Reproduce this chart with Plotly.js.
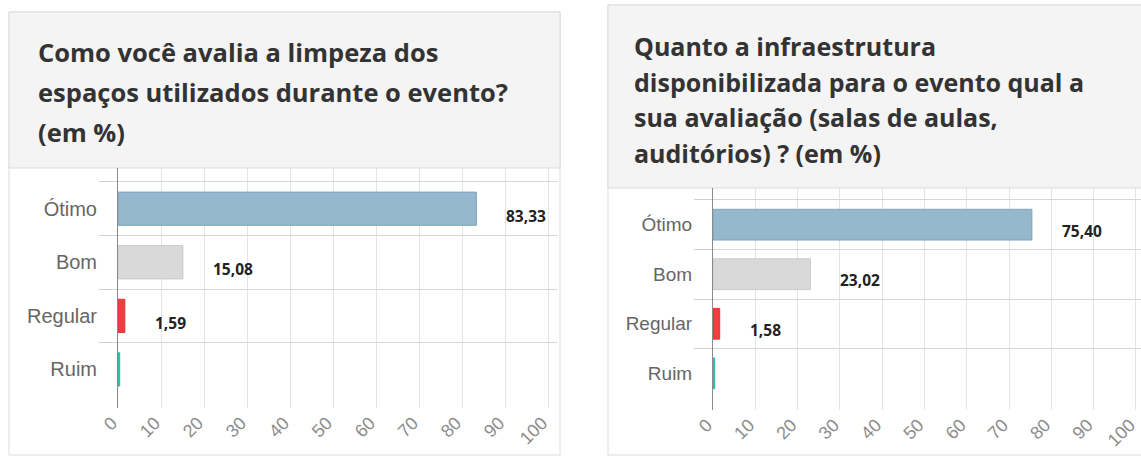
<!DOCTYPE html>
<html>
<head>
<meta charset="utf-8">
<script src="https://cdn.plot.ly/plotly-3.0.1.min.js"></script>
<style>
  html, body { margin: 0; padding: 0; background: #fff; }
  #chart { width: 1141px; height: 459px; }
</style>
</head>
<body>
<div id="chart"></div>
<script>
// data
var categorias = ['Ótimo', 'Bom', 'Regular', 'Ruim'];
var limpeza = [83.33, 15.08, 1.59, 0];
var infraestrutura = [75.40, 23.02, 1.58, 0];
var xTicks = [0, 10, 20, 30, 40, 50, 60, 70, 80, 90, 100];

var tituloLimpeza = [
    'Como você avalia a limpeza dos',
    'espaços utilizados durante o evento?',
    '(em %)'
];
var tituloInfra = [
    'Quanto a infraestrutura',
    'disponibilizada para o evento qual a',
    'sua avaliação (salas de aulas,',
    'auditórios) ? (em %)'
];

var W = 1141, H = 459;
function px(x) { return x / W; }
function py(y) { return 1 - y / H; }

var fill = ['#94b8cd', '#d9d9d9', '#ec3f3f', '#2fb9a6'];
var borda = ['#7fa4bb', '#c8c8c8', '#e03434', '#2fb9a6'];
var minBar = 0.4; // the original library draws zero bars as a thin stroke

function fmt(v) { return v.toFixed(2).replace('.', ','); }

function barTrace(vals, xa, ya) {
    return {
        type: 'bar',
        orientation: 'h',
        x: vals.map(function (v) { return Math.max(v, minBar); }),
        y: categorias,
        xaxis: xa,
        yaxis: ya,
        width: 0.62,
        marker: { color: fill, line: { color: borda, width: 1 } },
        hoverinfo: 'skip',
        showlegend: false
    };
}

var data = [barTrace(limpeza, 'x', 'y'), barTrace(infraestrutura, 'x2', 'y2')];

function xAxis(domain, maxRange, anchor) {
    return {
        domain: domain,
        anchor: anchor,
        range: [0, maxRange],
        tickvals: xTicks,
        ticktext: xTicks.map(String),
        tickangle: -45,
        ticklabelshift: -6,
        ticklabeloverflow: 'allow',
        showgrid: true,
        gridcolor: '#e3e3e3',
        zeroline: false,
        showline: false,
        ticks: '',
        fixedrange: true,
        tickfont: { family: 'Liberation Sans, Arial, sans-serif', size: 18, color: '#8c8c8c' }
    };
}

function yAxis(domain, range, anchor, size) {
    return {
        domain: domain,
        anchor: anchor,
        type: 'category',
        range: range,
        tickson: 'boundaries',
        ticks: 'outside',
        ticklen: 18,
        tickwidth: 1,
        tickcolor: '#d0d0d0',
        ticklabelstandoff: 16,
        showgrid: true,
        gridcolor: '#d6d6d6',
        showline: true,
        linecolor: '#8a8a8a',
        linewidth: 1,
        zeroline: false,
        fixedrange: true,
        tickfont: { family: 'Liberation Sans, Arial, sans-serif', size: size, color: '#666' }
    };
}

var shapes = [
    // cards
    { type: 'rect', xref: 'paper', yref: 'paper', x0: px(9), x1: px(560), y0: py(455), y1: py(12),
      fillcolor: '#fff', line: { color: '#dcdcdc', width: 1 }, layer: 'below' },
    { type: 'rect', xref: 'paper', yref: 'paper', x0: px(9), x1: px(560), y0: py(168), y1: py(12),
      fillcolor: '#f4f4f4', line: { color: '#dcdcdc', width: 1 }, layer: 'below' },
    { type: 'rect', xref: 'paper', yref: 'paper', x0: px(608), x1: px(1150), y0: py(455), y1: py(5),
      fillcolor: '#fff', line: { color: '#dcdcdc', width: 1 }, layer: 'below' },
    { type: 'rect', xref: 'paper', yref: 'paper', x0: px(608), x1: px(1150), y0: py(188), y1: py(5),
      fillcolor: '#f4f4f4', line: { color: '#dcdcdc', width: 1 }, layer: 'below' }
];

var annotations = [];

function addTitle(lines, x, y0, step, size) {
    lines.forEach(function (t, i) {
        annotations.push({
            xref: 'paper', yref: 'paper', x: px(x), y: py(y0 + i * step),
            xanchor: 'left', yanchor: 'middle', showarrow: false, text: t,
            font: { family: 'Open Sans, sans-serif', size: size, color: '#333', weight: 700 }
        });
    });
}
addTitle(tituloLimpeza, 36, 52, 40, 25.5);
addTitle(tituloInfra, 632, 46, 35.7, 25);

function addValues(vals, xa, ya, yshift) {
    vals.forEach(function (v, i) {
        if (v <= 0) return;
        annotations.push({
            xref: xa, yref: ya, x: v, y: categorias[i],
            xanchor: 'left', yanchor: 'middle', xshift: 28, yshift: yshift, showarrow: false,
            text: fmt(v),
            font: { family: 'Open Sans, sans-serif', size: 15.5, color: '#222', weight: 700 }
        });
    });
}
addValues(limpeza, 'x', 'y', -7);
addValues(infraestrutura, 'x2', 'y2', -6);

var layout = {
    width: W,
    height: H,
    margin: { l: 0, r: 0, t: 0, b: 0 },
    paper_bgcolor: '#fff',
    plot_bgcolor: 'rgba(0,0,0,0)',
    xaxis: xAxis([px(118), px(558)], 102.3, 'y'),
    yaxis: yAxis([py(408), py(168)], [3.72, -0.76], 'x', 20),
    xaxis2: xAxis([px(713), 1], 101.2, 'y2'),
    yaxis2: yAxis([py(410), py(188)], [3.74, -0.74], 'x2', 19),
    shapes: shapes,
    annotations: annotations
};

Plotly.newPlot('chart', data, layout, { displayModeBar: false, staticPlot: true });
</script>
</body>
</html>
